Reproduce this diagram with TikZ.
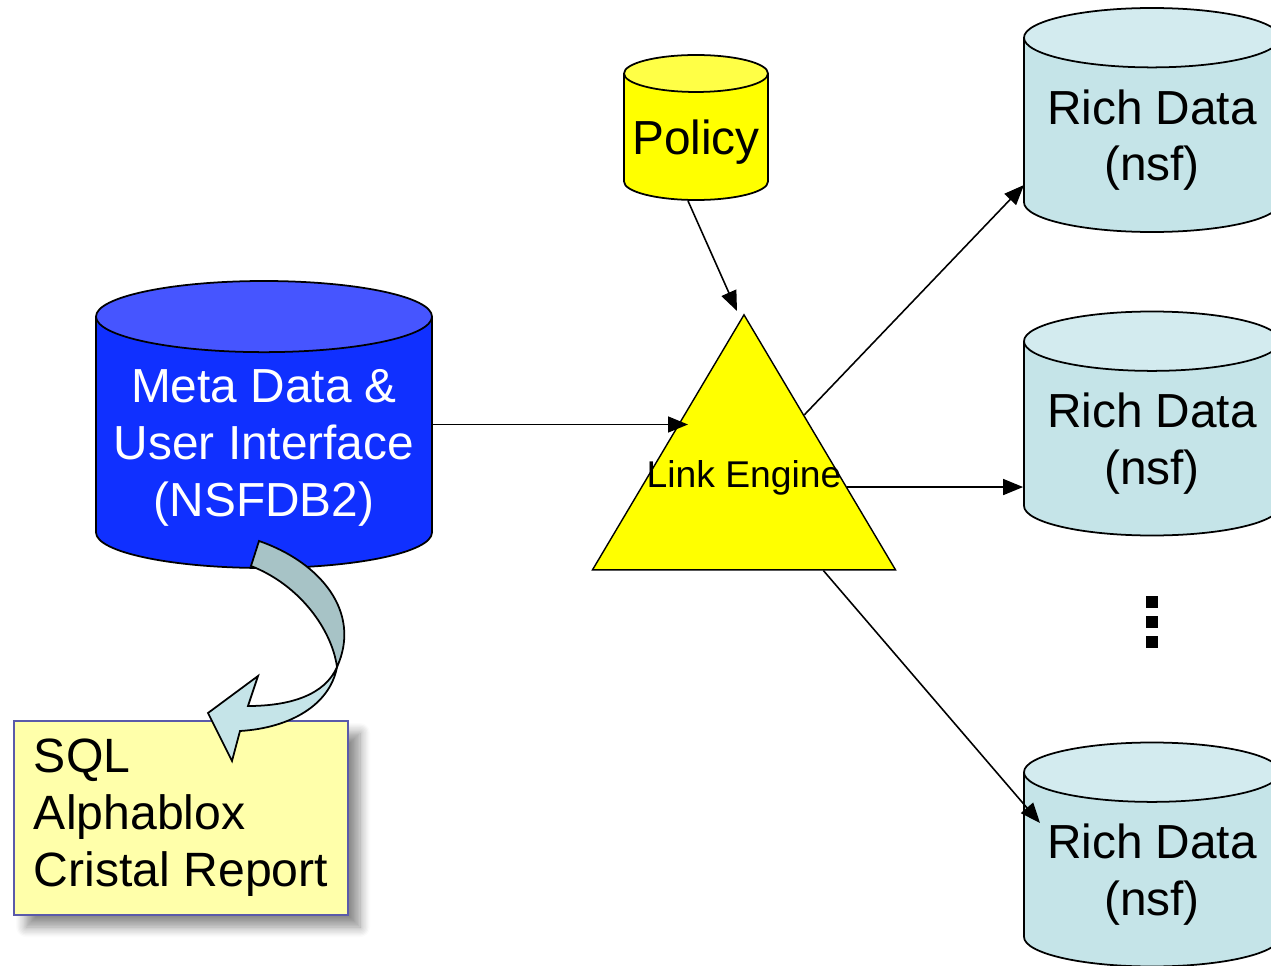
\documentclass[tikz,border=0pt]{standalone}
\usepackage{fontspec}
\setmainfont{Liberation Sans}
\usetikzlibrary{arrows.meta,shapes.geometric,shadows.blur}
\definecolor{metablue}{RGB}{16,48,255}
\definecolor{metatop}{RGB}{70,85,255}
\definecolor{policyyellow}{RGB}{255,255,0}
\definecolor{policytop}{RGB}{255,255,70}
\definecolor{richbody}{RGB}{197,228,232}
\definecolor{richtop}{RGB}{211,235,239}
\definecolor{boxfill}{RGB}{255,255,170}
\definecolor{boxline}{RGB}{90,90,170}
\definecolor{twistdark}{RGB}{167,195,198}
\tikzset{
  store/.style = {cylinder, shape border rotate=90, draw, line width=0.5pt,
    cylinder uses custom fill, align=center, inner sep=0pt,
    font=\fontsize{13.6}{16.2}\selectfont},
  metastore/.style = {store, text=white, cylinder body fill=metablue,
    cylinder end fill=metatop, minimum width=33.6mm, minimum height=28.7mm,
    aspect=0.237, text height=44.6pt},
  policystore/.style = {store, cylinder body fill=policyyellow,
    cylinder end fill=policytop, minimum width=14.4mm, minimum height=14.5mm,
    aspect=0.29, execute at begin node={\rule{0pt}{12.6pt}}},
  richstore/.style = {store, cylinder body fill=richbody,
    cylinder end fill=richtop, minimum width=25.6mm, minimum height=22.4mm,
    aspect=0.283, text height=28.8pt},
  engine/.style = {isosceles triangle, isosceles triangle stretches,
    shape border rotate=90, draw, fill=policyyellow, inner sep=0pt,
    minimum width=30.3mm, minimum height=25.5mm,
    font=\fontsize{10.6}{12}\selectfont},
  toolbox/.style = {rectangle, draw=boxline, line width=0.6pt, fill=boxfill,
    minimum width=33.4mm, minimum height=19.4mm, align=left, inner sep=0pt,
    font=\fontsize{13.7}{16.2}\selectfont,
    blur shadow={shadow xshift=1.2mm, shadow yshift=-1.2mm,
      shadow blur radius=1mm, shadow blur steps=8, shadow opacity=45}}
}

\begin{document}
\begin{tikzpicture}[
        x=0.1mm, y=-0.1mm,
        >={Triangle[length=2mm, width=1.6mm]},
        flow/.style={->, line width=0.45pt}
    ]
    \path[use as bounding box, clip] (0,0) rectangle (1271,966);
    \node [toolbox, anchor=north west] (tools) at (13,720)
        {SQL\\Alphablox\\Cristal Report};
    \node [metastore, anchor=shape center] (meta) at (264,424.5)
        {Meta Data \&\\User Interface\\(NSFDB2)};
    \node [policystore, anchor=shape center] (policy) at (696,127.5) {Policy};
    \node [richstore, anchor=shape center] (rich1) at (1152,120) {Rich Data\\(nsf)};
    \node [richstore, anchor=shape center] (rich2) at (1152,423.5) {Rich Data\\(nsf)};
    \node [richstore, anchor=shape center] (rich3) at (1152,854.5) {Rich Data\\(nsf)};
    \node [engine, anchor=apex] (link) at (744,313) {\makebox[0pt]{Link Engine}};
    % more stores
    \foreach \y in {602,622,642}
        \fill (1146,\y-6) rectangle (1158,\y+6);
    % twisted arrow to the tools
    \filldraw [fill=twistdark, line width=0.5pt] (259,541)
        .. controls (320,562) and (362,612) .. (337,667)
        .. controls (332,630) and (300,585) .. (251,566) -- cycle;
    \filldraw [fill=richbody, line width=0.5pt] (337,667)
        .. controls (330,705) and (290,728) .. (240,731)
        -- (232,761) -- (208,713) -- (258,676) -- (248,706)
        .. controls (290,706) and (325,695) .. (337,667) -- cycle;
    % connectors
    \draw [flow, shorten >=5.6mm] ([xshift=16.8mm]meta.shape center)
        -- (meta.shape center -| link.apex);
    \draw [flow] ([xshift=-0.8mm]policy.south) -- ([xshift=-0.7mm, yshift=0.2mm]link.apex);
    \draw [flow] (link) -- ([xshift=-12.8mm, yshift=-6.5mm]rich1.shape center);
    \draw [flow] (link.-5.5) -- (link.-5.5 -| rich2.west);
    \draw [flow] (link) -- ([xshift=-11.2mm, yshift=3.15mm]rich3.shape center);
\end{tikzpicture}
\end{document}
